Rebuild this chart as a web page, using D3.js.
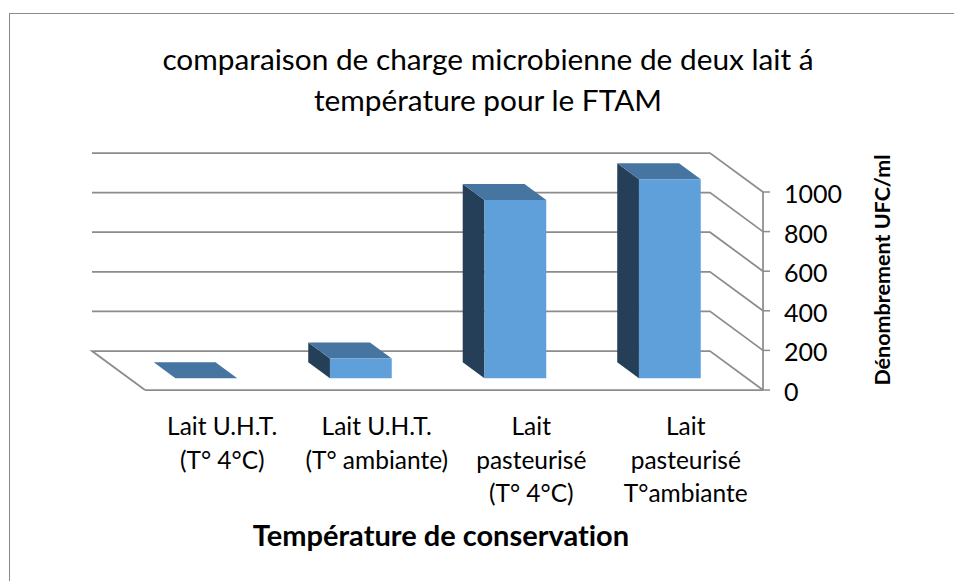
<!DOCTYPE html>
<html>
<head>
  <meta charset="utf-8">
  <script src="https://d3js.org/d3.v7.min.js"></script>
  <style>
    body { margin: 0; background: #fff; }
    text { font-family: Lato, "Open Sans", sans-serif; fill: #000; font-variant-ligatures: none; }
  </style>
</head>
<body>
  <div id="chart_div"></div>

  <script>
    // data
    var categories = [
      ["Lait U.H.T.", "(T° 4°C)"],
      ["Lait U.H.T.", "(T° ambiante)"],
      ["Lait", "pasteurisé", "(T° 4°C)"],
      ["Lait", "pasteurisé", "T°ambiante"]
    ];
    var values = [0, 100, 900, 1005];
    var yTicks = [0, 200, 400, 600, 800, 1000];
    var titleLines = ["comparaison de charge microbienne de deux lait á", "température pour le FTAM"];
    var xTitle = "Température de conservation";
    var yTitle = "Dénombrement UFC/ml";

    var width = 954, height = 581;

    // front-plane origin and depth offset (pseudo 3D)
    var x0 = 145, y0 = 390, plotW = 618, plotH = 198;
    var depthX = -53, depthY = -39;
    var barZ0 = 0.3, barZ1 = 0.71;

    var svg = d3.select("#chart_div")
      .append("svg")
      .attr("width", width)
      .attr("height", height);

    // chart border
    svg.append("rect")
      .attr("x", 9.5).attr("y", 13.5)
      .attr("width", 1000).attr("height", 1000)
      .attr("fill", "none")
      .attr("stroke", "#8a8a8a")
      .attr("stroke-width", 1);

    var x = d3.scaleBand()
      .domain(d3.range(categories.length))
      .range([0, plotW])
      .paddingInner(0.6)
      .paddingOuter(0.3);

    var y = d3.scaleLinear()
      .domain([0, 1000])
      .range([0, plotH]);

    // project (front x, value, depth 0..1) to screen
    function P(px, v, z) {
      return [x0 + px + z * depthX, y0 - y(v) + z * depthY];
    }

    var line = d3.line();

    // back wall + side wall gridlines
    var grid = svg.append("g").attr("class", "grid");
    yTicks.forEach(function(t) {
      var pts = [P(0, t, 1), P(plotW, t, 1), P(plotW, t, 0)];
      if (t === 0) pts = [P(0, 0, 0), P(0, 0, 1)].concat(pts);
      grid.append("path")
        .attr("d", line(pts))
        .attr("fill", "none")
        .attr("stroke", "#8c8c8c")
        .attr("stroke-width", 1.75);
    });
    // floor front edge
    grid.append("path")
      .attr("d", line([P(0, 0, 0), P(plotW, 0, 0)]))
      .attr("fill", "none")
      .attr("stroke", "#8c8c8c")
      .attr("stroke-width", 1.75);

    // value axis on the right (front plane)
    var axis = svg.append("g").attr("class", "y-axis");
    axis.append("path")
      .attr("d", line([P(plotW, 0, 0), P(plotW, 1000, 0)]))
      .attr("stroke", "#8c8c8c")
      .attr("stroke-width", 1.75);
    axis.selectAll(".tick")
      .data(yTicks)
      .enter()
      .append("path")
      .attr("class", "tick")
      .attr("d", function(d) { var p = P(plotW, d, 0); return line([p, [p[0] + 7, p[1]]]); })
      .attr("stroke", "#8c8c8c")
      .attr("stroke-width", 1.5);
    axis.selectAll(".tickLabel")
      .data(yTicks)
      .enter()
      .append("text")
      .attr("class", "tickLabel")
      .attr("x", function(d) { return P(plotW, d, 0)[0] + 21; })
      .attr("y", function(d) { return P(plotW, d, 0)[1] + 1; })
      .attr("dominant-baseline", "central")
      .style("font-size", "25px")
      .text(function(d) { return d; });

    // bars: side, top, front
    var bars = svg.selectAll(".bar")
      .data(values)
      .enter()
      .append("g")
      .attr("class", "bar");

    bars.append("path")
      .attr("d", function(d, i) {
        var a = x(i);
        return line([P(a, 0, barZ0), P(a, d, barZ0), P(a, d, barZ1), P(a, 0, barZ1)]) + "Z";
      })
      .attr("fill", "#243f57");

    bars.append("path")
      .attr("d", function(d, i) {
        var a = x(i), b = x(i) + x.bandwidth();
        return line([P(a, d, barZ0), P(b, d, barZ0), P(b, d, barZ1), P(a, d, barZ1)]) + "Z";
      })
      .attr("fill", "#4675a1");

    bars.append("path")
      .attr("d", function(d, i) {
        var a = x(i), b = x(i) + x.bandwidth();
        return line([P(a, 0, barZ0), P(b, 0, barZ0), P(b, d, barZ0), P(a, d, barZ0)]) + "Z";
      })
      .attr("fill", "#5f9fda");

    // category labels
    var catLabels = svg.selectAll(".catLabel")
      .data(categories)
      .enter()
      .append("text")
      .attr("class", "catLabel")
      .attr("text-anchor", "middle")
      .style("font-size", "24.5px");

    catLabels.selectAll("tspan")
      .data(function(d, i) { return d.map(function(s) { return { s: s, i: i }; }); })
      .enter()
      .append("tspan")
      .attr("x", function(d) { return P(x(d.i) + x.bandwidth() / 2, 0, 0)[0]; })
      .attr("y", function(d, j) { return 435 + j * 33.5; })
      .text(function(d) { return d.s; });

    // title
    svg.append("text")
      .attr("text-anchor", "middle")
      .style("font-size", "29.8px")
      .selectAll("tspan")
      .data(titleLines)
      .enter()
      .append("tspan")
      .attr("x", 488)
      .attr("y", function(d, i) { return 70 + i * 41; })
      .text(function(d) { return d; });

    // axis titles
    svg.append("text")
      .attr("x", 441)
      .attr("y", 546)
      .attr("text-anchor", "middle")
      .style("font-size", "29px")
      .style("font-weight", "bold")
      .text(xTitle);

    svg.append("text")
      .attr("transform", "translate(890,270) rotate(-90)")
      .attr("text-anchor", "middle")
      .style("font-size", "21.5px")
      .style("font-weight", "bold")
      .text(yTitle);
  </script>
</body>
</html>
